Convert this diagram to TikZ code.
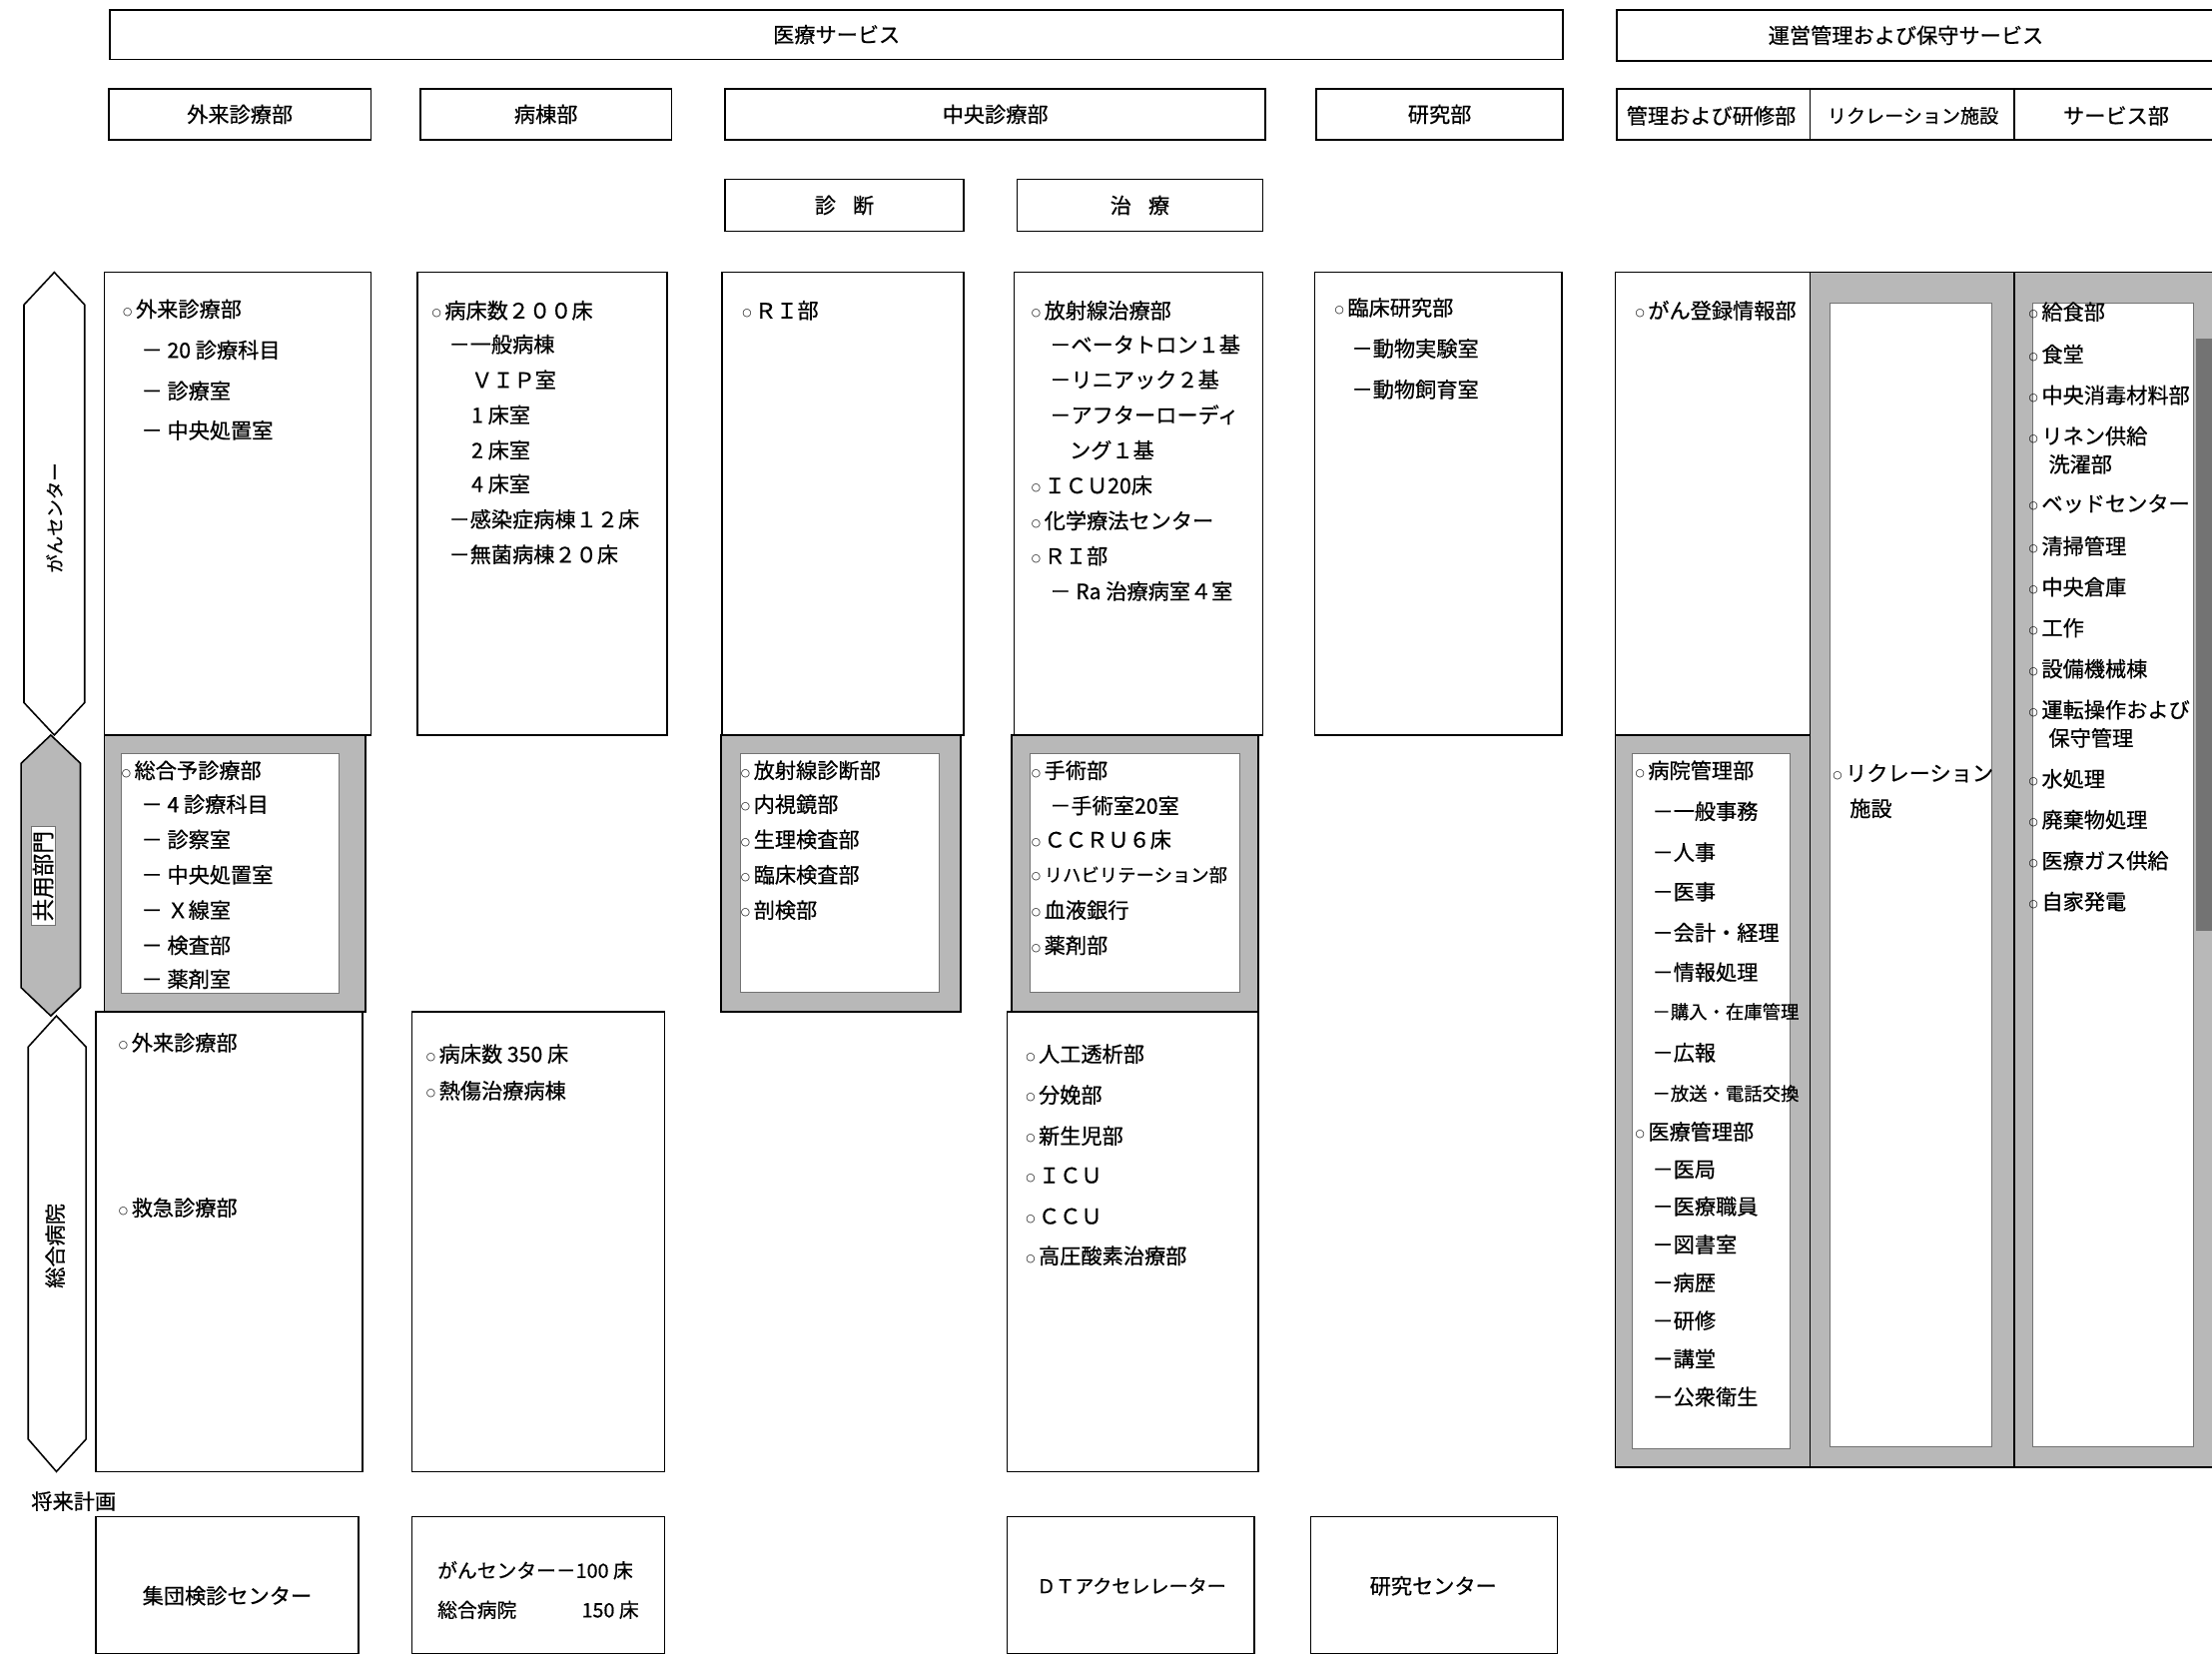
\documentclass[tikz,border=0pt]{standalone}
\usepackage{fontspec}
\setmainfont{Noto Sans CJK JP}[FakeBold=0.6]
\newfontfamily\dvs{DejaVu Sans}
\newcommand\mybu{\raisebox{1.6pt}{\fontsize{7.5}{9}\selectfont\dvs ○}\hspace{2.5pt}}
\begin{document}
\begin{tikzpicture}[x=1pt,y=-1pt,
  bx/.style={draw,line width=1.1pt},
  hb/.style={draw,line width=1.1pt,inner sep=0pt,font=\fontsize{15}{18}\selectfont},
  lb/.style={inner sep=0pt,font=\fontsize{15}{18}\selectfont},
  it/.style={anchor=west,inner sep=0pt,font=\fontsize{15}{18}\selectfont},
  its/.style={anchor=west,inner sep=0pt,font=\fontsize{13}{16}\selectfont},
  shd/.style={fill=black!28,draw,line width=1.1pt},
  inr/.style={fill=white,draw=black!55,line width=0.5pt},
  hexa/.style={draw,line width=1.1pt}
]
\useasboundingbox (0,0) rectangle (1568,1174);
\clip (0,0) rectangle (1568,1174);

% ---------- header rows ----------
\node[hb,minimum width=1030,minimum height=35] (iryo) at (593,24.5) {医療サービス};
\draw[bx] (1146,7) rectangle (1590,43);
\node[lb] (unei) at (1351,25) {運営管理および保守サービス};

\node[hb,minimum width=186,minimum height=36] (gairaiH) at (170,81) {外来診療部};
\node[hb,minimum width=178,minimum height=36] (byotoH) at (387,81) {病棟部};
\node[hb,minimum width=383,minimum height=36] (chuoH) at (705.5,81) {中央診療部};
\node[hb,minimum width=175,minimum height=36] (kenH) at (1020.5,81) {研究部};
\draw[bx] (1146,63) rectangle (1590,99);
\draw[bx] (1283,63) -- (1283,99);
\draw[bx] (1428,63) -- (1428,99);
\node[lb] (kanriH) at (1213,82) {管理および研修部};
\node[lb,font=\fontsize{13.5}{16}\selectfont] (recH) at (1356,82) {リクレーション施設};
\node[lb] (servH) at (1500,82) {サービス部};

\node[hb,minimum width=169,minimum height=37] (shindanH) at (598.5,145.5) {診\hspace{12pt}断};
\node[hb,minimum width=174,minimum height=37] (chiryoH) at (808,145.5) {治\hspace{12pt}療};

% ---------- left hexagons ----------
\draw[hexa] (38.5,193)--(60,216)--(60,498)--(38.5,521)--(17,498)--(17,216)--cycle;
\node[lb,rotate=90,font=\fontsize{13}{16}\selectfont] (hexGan) at (38.5,367) {がんセンター};
\draw[hexa,fill=black!28] (36,521)--(57,541)--(57,700)--(36,720)--(15,700)--(15,541)--cycle;
\node[rotate=90,fill=white,draw=black!55,line width=0.5pt,inner xsep=3pt,inner ysep=1pt,font=\fontsize{16}{18}\selectfont] (hexKyo) at (30.5,621) {共用部門};
\draw[hexa] (40,720)--(61,742)--(61,1020)--(40,1043)--(20,1020)--(20,742)--cycle;
\node[lb,rotate=90,font=\fontsize{15}{18}\selectfont] (hexSogo) at (39,883) {総合病院};

% ---------- top section boxes ----------
\draw[bx] (74,193) rectangle (263,521);
\draw[bx] (296,193) rectangle (473,521);
\draw[bx] (512,193) rectangle (683,521);
\draw[bx] (719,193) rectangle (895,521);
\draw[bx] (932,193) rectangle (1107,521);
\draw[bx] (1145,193) rectangle (1283,521);
% shaded tall columns
\draw[shd] (1283,193) rectangle (1428,1040);
\fill[inr] (1297,215) rectangle (1412,1025);
\draw[shd] (1428,193) rectangle (1590,1040);
\fill[inr] (1441,215) rectangle (1555,1025);
\fill[black!55] (1557,240) rectangle (1568,660);

% ---------- middle shaded section ----------
\draw[shd] (74,521) rectangle (259,717);
\fill[inr] (86,534) rectangle (240,704);
\draw[shd] (511,521) rectangle (681,717);
\fill[inr] (525,534) rectangle (666,703);
\draw[shd] (717,521) rectangle (892,717);
\fill[inr] (730,534) rectangle (879,703);
\draw[shd] (1145,521) rectangle (1283,1040);
\fill[inr] (1157,534) rectangle (1269,1027);

% ---------- bottom section ----------
\draw[bx] (68,717) rectangle (257,1043);
\draw[bx] (292,717) rectangle (471,1043);
\draw[bx] (714,717) rectangle (892,1043);

% ---------- texts: top section ----------
\foreach \xx/\yy/\t [count=\i] in {
  87/219/{\mybu 外来診療部},
  100/248/{－ 20 診療科目},
  100/277/{－ 診療室},
  100/305/{－ 中央処置室}}
  \node[it] (at\i) at (\xx,\yy) {\t};

\foreach \xx/\yy/\t [count=\i] in {
  306/220/{\mybu 病床数２００床},
  318/244/{－一般病棟},
  334/269/{ＶＩＰ室},
  334/294/{1 床室},
  334/319/{2 床室},
  334/343/{4 床室},
  318/368/{－感染症病棟１２床},
  318/393/{－無菌病棟２０床}}
  \node[it] (bt\i) at (\xx,\yy) {\t};

\node[it] (ct1) at (526,220) {\mybu ＲＩ部};

\foreach \xx/\yy/\t [count=\i] in {
  731/220/{\mybu 放射線治療部},
  744/244/{－ベータトロン１基},
  744/269/{－リニアック２基},
  744/294/{－アフターローディ},
  758/319/{ング１基},
  731/344/{\mybu ＩＣＵ20床},
  731/369/{\mybu 化学療法センター},
  731/394/{\mybu ＲＩ部},
  744/419/{－ Ra 治療病室４室}}
  \node[it] (dt\i) at (\xx,\yy) {\t};

\foreach \xx/\yy/\t [count=\i] in {
  946/218/{\mybu 臨床研究部},
  958/247/{－動物実験室},
  958/276/{－動物飼育室}}
  \node[it] (et\i) at (\xx,\yy) {\t};

\node[it] (ft1) at (1159,220) {\mybu がん登録情報部};

\node[it] (gt1) at (1299,548) {\mybu リクレーション};
\node[it] (gt2) at (1311,573) {施設};

\foreach \xx/\yy/\t [count=\i] in {
  1438/221/{\mybu 給食部},
  1438/251/{\mybu 食堂},
  1438/280/{\mybu 中央消毒材料部},
  1438/309/{\mybu リネン供給},
  1452/329/{洗濯部},
  1438/357/{\mybu ベッドセンター},
  1438/387/{\mybu 清掃管理},
  1438/416/{\mybu 中央倉庫},
  1438/445/{\mybu 工作},
  1438/474/{\mybu 設備機械棟},
  1438/503/{\mybu 運転操作および},
  1452/523/{保守管理},
  1438/552/{\mybu 水処理},
  1438/581/{\mybu 廃棄物処理},
  1438/610/{\mybu 医療ガス供給},
  1438/639/{\mybu 自家発電}}
  \node[it] (ht\i) at (\xx,\yy) {\t};

% ---------- texts: middle section ----------
\foreach \xx/\yy/\t [count=\i] in {
  86/546/{\mybu 総合予診療部},
  100/570/{－ 4 診療科目},
  100/595/{－ 診察室},
  100/620/{－ 中央処置室},
  100/645/{－ Ｘ線室},
  100/670/{－ 検査部},
  100/694/{－ 薬剤室}}
  \node[it] (am\i) at (\xx,\yy) {\t};

\foreach \xx/\yy/\t [count=\i] in {
  525/546/{\mybu 放射線診断部},
  525/570/{\mybu 内視鏡部},
  525/595/{\mybu 生理検査部},
  525/620/{\mybu 臨床検査部},
  525/645/{\mybu 剖検部}}
  \node[it] (cm\i) at (\xx,\yy) {\t};

\foreach \xx/\yy/\t [count=\i] in {
  731/546/{\mybu 手術部},
  744/571/{－手術室20室},
  731/595/{\mybu ＣＣＲＵ６床},
  731/645/{\mybu 血液銀行},
  731/670/{\mybu 薬剤部}}
  \node[it] (dm\i) at (\xx,\yy) {\t};
\node[its] (dmR) at (731,620) {\mybu リハビリテーション部};

\foreach \xx/\yy/\t [count=\i] in {
  1159/546/{\mybu 病院管理部},
  1171/575/{－一般事務},
  1171/604/{－人事},
  1171/632/{－医事},
  1171/661/{－会計・経理},
  1171/689/{－情報処理},
  1171/746/{－広報},
  1159/802/{\mybu 医療管理部},
  1171/829/{－医局},
  1171/855/{－医療職員},
  1171/882/{－図書室},
  1171/909/{－病歴},
  1171/936/{－研修},
  1171/963/{－講堂},
  1171/990/{－公衆衛生}}
  \node[it] (fm\i) at (\xx,\yy) {\t};
\node[its] (fmA) at (1171,717) {－購入・在庫管理};
\node[its] (fmB) at (1171,775) {－放送・電話交換};

% ---------- texts: bottom section ----------
\node[it] (ab1) at (84,739) {\mybu 外来診療部};
\node[it] (ab2) at (84,856) {\mybu 救急診療部};
\node[it] (bb1) at (302,747) {\mybu 病床数 350 床};
\node[it] (bb2) at (302,773) {\mybu 熱傷治療病棟};
\foreach \xx/\yy/\t [count=\i] in {
  727/747/{\mybu 人工透析部},
  727/776/{\mybu 分娩部},
  727/805/{\mybu 新生児部},
  727/833/{\mybu ＩＣＵ},
  727/862/{\mybu ＣＣＵ},
  727/890/{\mybu 高圧酸素治療部}}
  \node[it] (db\i) at (\xx,\yy) {\t};

% ---------- future plan ----------
\node[it] (shorai) at (22,1064) {将来計画};
\node[hb,minimum width=186,minimum height=97] (fut1) at (161,1123.5) {};
\node[lb] (fut1t) at (161,1131) {集団検診センター};
\node[hb,minimum width=179,minimum height=97] (fut2) at (381.5,1123.5) {};
\node[it,font=\fontsize{14}{16}\selectfont] (fut2a) at (310,1113) {がんセンター－100 床};
\node[it,font=\fontsize{14}{16}\selectfont] (fut2b) at (310,1141) {総合病院};
\node[lb,anchor=east,font=\fontsize{14}{16}\selectfont] (fut2c) at (453,1141) {150 床};
\node[hb,minimum width=175,minimum height=97] (fut3) at (801.5,1123.5) {};
\node[lb,font=\fontsize{13.5}{16}\selectfont] (fut3t) at (802,1124) {ＤＴアクセレレーター};
\node[hb,minimum width=175,minimum height=97] (fut4) at (1016.5,1123.5) {};
\node[lb] (fut4t) at (1016,1124) {研究センター};
\end{tikzpicture}
\end{document}
